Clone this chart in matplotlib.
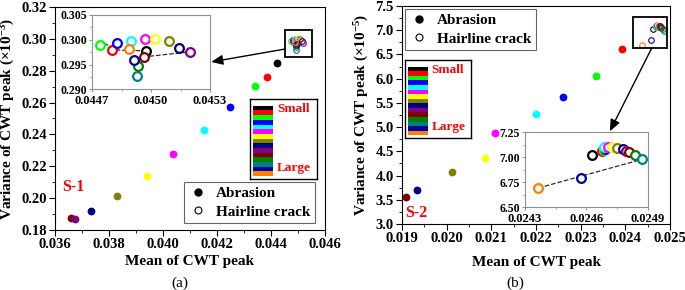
import numpy as np
import matplotlib.pyplot as plt
from matplotlib.lines import Line2D
from matplotlib.patches import Rectangle, ConnectionPatch
from matplotlib.ticker import MultipleLocator, FormatStrFormatter

plt.rcParams['font.family'] = ['Liberation Serif', 'DejaVu Serif']
plt.rcParams['font.weight'] = 'bold'
plt.rcParams['axes.labelweight'] = 'bold'
plt.rcParams['mathtext.default'] = 'regular'

# Origin-style colour order, small -> large
colors = ['#000000', '#FF0000', '#00FF00', '#0000FF', '#00FFFF', '#FF00FF',
          '#FFFF00', '#808000', '#000080', '#800080', '#800000', '#008000',
          '#008080', '#0000A0', '#FF8000']

# ---- S-1 ----
abr1_x = [0.04422, 0.04386, 0.04341, 0.04249, 0.04153, 0.04038, 0.03940,
          0.03831, 0.03733, 0.03675, 0.03659]
abr1_y = [0.2851, 0.2763, 0.2707, 0.2571, 0.2425, 0.2276, 0.2141,
          0.2013, 0.1919, 0.1867, 0.1877]
abr1_c = [0, 1, 2, 3, 4, 5, 6, 7, 8, 9, 10]

hair1_x = [0.044975, 0.044803, 0.044741, 0.044827, 0.044897, 0.044971, 0.045019,
           0.045090, 0.045144, 0.045197, 0.044966, 0.044935, 0.044927, 0.044914, 0.044887]
hair1_y = [0.29766, 0.29800, 0.29886, 0.29946, 0.29986, 0.30020, 0.30022,
           0.29980, 0.29834, 0.29754, 0.29646, 0.29480, 0.29280, 0.29594, 0.29814]
trend1_x = [0.04476, 0.04484, 0.04497, 0.04497, 0.04518]
trend1_y = [0.2993, 0.2979, 0.2978, 0.2966, 0.2975]
box1 = (0.04452, 0.04551, 0.2888, 0.3056)

# ---- S-2 ----
abr2_x = [0.02392, 0.02334, 0.02261, 0.02200, 0.02109, 0.02085, 0.02011, 0.01934, 0.01909]
abr2_y = [6.606, 6.049, 5.622, 5.278, 4.872, 4.356, 4.074, 3.702, 3.551]
abr2_c = [1, 2, 3, 4, 5, 6, 7, 8, 10]

hair2_x = [0.024628, 0.024676, 0.024683, 0.024689, 0.024686, 0.024705, 0.024725,
           0.024751, 0.024780, 0.024793, 0.024806, 0.024837, 0.024872, 0.024572, 0.024365]
hair2_y = [7.017, 7.057, 7.073, 7.083, 7.097, 7.103, 7.100,
           7.087, 7.077, 7.063, 7.050, 7.023, 6.977, 6.793, 6.690]
trend2_x = [0.024365, 0.024872]
trend2_y = [6.690, 6.977]
box2 = (0.02417, 0.02493, 6.63, 7.27)

fig = plt.figure(figsize=(6.85, 2.9), dpi=100)


def style_main(ax, xlim, ylim, xmaj, ymaj, xfmt, yfmt):
    ax.set_xlim(*xlim)
    ax.set_ylim(*ylim)
    ax.xaxis.set_major_locator(MultipleLocator(xmaj))
    ax.xaxis.set_minor_locator(MultipleLocator(xmaj / 2))
    ax.yaxis.set_major_locator(MultipleLocator(ymaj))
    ax.yaxis.set_minor_locator(MultipleLocator(ymaj / 2))
    ax.xaxis.set_major_formatter(FormatStrFormatter(xfmt))
    ax.yaxis.set_major_formatter(FormatStrFormatter(yfmt))
    ax.tick_params(which='major', direction='out', length=4, width=0.8, labelsize=10.5, pad=2)
    ax.tick_params(which='minor', direction='out', length=2, width=0.6)
    for s in ax.spines.values():
        s.set_linewidth(0.8)


def style_inset(ax, xlim, ylim, xmaj, ymaj, xfmt, yfmt, xs=9, ys=8.5):
    ax.set_xlim(*xlim)
    ax.set_ylim(*ylim)
    ax.xaxis.set_major_locator(MultipleLocator(xmaj))
    ax.xaxis.set_minor_locator(MultipleLocator(xmaj / 2))
    ax.yaxis.set_major_locator(MultipleLocator(ymaj))
    ax.yaxis.set_minor_locator(MultipleLocator(ymaj / 2))
    ax.xaxis.set_major_formatter(FormatStrFormatter(xfmt))
    ax.yaxis.set_major_formatter(FormatStrFormatter(yfmt))
    ax.tick_params(which='major', direction='out', length=2.5, width=0.6, colors='#808080',
                   labelcolor='k', pad=1)
    ax.tick_params(axis='x', labelsize=xs, pad=1.5)
    ax.tick_params(axis='y', labelsize=ys)
    ax.tick_params(which='minor', direction='out', length=1.5, width=0.5, colors='#808080')
    for s in ax.spines.values():
        s.set_linewidth(0.8)
        s.set_edgecolor('#909090')


def colour_key(rect):
    k = fig.add_axes(rect)
    k.set_xlim(0, 1)
    k.set_ylim(0, 1)
    k.set_xticks([])
    k.set_yticks([])
    for s in k.spines.values():
        s.set_linewidth(1.0)
    top, bot = 0.915, 0.035
    h = (top - bot) / len(colors)
    for i, c in enumerate(colors):
        k.barh(top - (i + 0.5) * h, 0.30, left=0.045, height=h, color=c, linewidth=0)
    k.text(0.40, 0.87, 'Small', color='red', fontsize=9.5, va='center', ha='left')
    k.text(0.40, 0.135, 'Large', color='red', fontsize=9.5, va='center', ha='left')
    return k


def legend_handles():
    return [Line2D([], [], ls='none', marker='o', ms=5, mfc='k', mec='k'),
            Line2D([], [], ls='none', marker='o', ms=5, mfc='none', mec='k', mew=0.8)]


# ================= panel (a) =================
ax1 = fig.add_axes([0.0803, 0.2069, 0.394, 0.769])
for x, y, ci in reversed(list(zip(abr1_x, abr1_y, abr1_c))):
    ax1.plot(x, y, 'o', ms=4.6, color=colors[ci], mec=colors[ci])
for i, (x, y) in enumerate(zip(hair1_x, hair1_y)):
    ax1.plot(x, y, 'o', ms=4, mfc='none', mec=colors[i], mew=0.8)
ax1.add_patch(Rectangle((box1[0], box1[2]), box1[1] - box1[0], box1[3] - box1[2],
                        fill=False, ec='k', lw=1.3, zorder=5))
style_main(ax1, (0.036, 0.046), (0.18, 0.32), 0.002, 0.02, '%.3f', '%.2f')
ax1.set_xlabel('Mean of CWT peak', fontsize=11, labelpad=3)
ax1.set_ylabel('Variance of CWT peak (×10$^{-3}$)', fontsize=11, labelpad=3)
ax1.text(0.03626, 0.207, 'S-1', color='red', fontsize=11.5, va='center')
ax1.legend(legend_handles(), ['Abrasion', 'Hairline crack'], loc='lower right',
           bbox_to_anchor=(0.963, 0.031), fontsize=11, frameon=True, fancybox=False,
           edgecolor='#404040', handletextpad=0.6, borderpad=0.3, labelspacing=0.3,
           handlelength=1.2, borderaxespad=0).get_frame().set_linewidth(0.8)
fig.text(0.263, 0.024, '(a)', fontsize=11, fontweight='normal', ha='center', va='center')

in1 = fig.add_axes([0.1343, 0.6914, 0.1723, 0.2569])
in1.plot(trend1_x, trend1_y, '--', color='#303030', lw=0.9, zorder=1)
for i, (x, y) in enumerate(zip(hair1_x, hair1_y)):
    in1.plot(x, y, 'o', ms=6.3, mfc='white', mec=colors[i], mew=1.6, zorder=2)
style_inset(in1, (0.0447, 0.0453), (0.290, 0.305), 0.0003, 0.005, '%.4f', '%.3f')

con1 = ConnectionPatch(xyA=(box1[0], 0.2936), coordsA=ax1.transData,
                       xyB=(1.01, 0.37), coordsB=in1.transAxes,
                       arrowstyle='-|>,head_length=0.7,head_width=0.3', color='k', lw=1.0,
                       mutation_scale=10)
fig.add_artist(con1)
colour_key([0.365, 0.3828, 0.0978, 0.2759])

# ================= panel (b) =================
ax2 = fig.add_axes([0.5869, 0.2276, 0.3912, 0.7517])
for x, y, ci in zip(abr2_x, abr2_y, abr2_c):
    ax2.plot(x, y, 'o', ms=4.6, color=colors[ci], mec=colors[ci])
for i, (x, y) in enumerate(zip(hair2_x, hair2_y)):
    ax2.plot(x, y, 'o', ms=4, mfc='none', mec=colors[i], mew=0.8)
ax2.add_patch(Rectangle((box2[0], box2[2]), box2[1] - box2[0], box2[3] - box2[2],
                        fill=False, ec='k', lw=1.3, zorder=5))
style_main(ax2, (0.019, 0.025), (3.0, 7.5), 0.001, 0.5, '%.3f', '%.1f')
ax2.set_xlabel('Mean of CWT peak', fontsize=11, labelpad=8)
ax2.set_ylabel('Variance of CWT peak (×10$^{-5}$)', fontsize=11, labelpad=3)
ax2.text(0.01906, 3.23, 'S-2', color='red', fontsize=11.5, va='center')
ax2.legend(legend_handles(), ['Abrasion', 'Hairline crack'], loc='upper left',
           bbox_to_anchor=(0.011, 0.986), fontsize=11, frameon=True, fancybox=False,
           edgecolor='#404040', handletextpad=0.6, borderpad=0.3, labelspacing=0.3,
           handlelength=1.2, borderaxespad=0).get_frame().set_linewidth(0.8)
fig.text(0.752, 0.024, '(b)', fontsize=11, fontweight='normal', ha='center', va='center')

in2 = fig.add_axes([0.7664, 0.2862, 0.1796, 0.2586])
in2.plot(trend2_x, trend2_y, '--', color='#303030', lw=0.9, zorder=1)
for i, (x, y) in enumerate(zip(hair2_x, hair2_y)):
    in2.plot(x, y, 'o', ms=6.3, mfc='white', mec=colors[i], mew=1.6, zorder=2)
style_inset(in2, (0.0243, 0.0249), (6.50, 7.25), 0.0003, 0.25, '%.4f', '%.2f')

con2 = ConnectionPatch(xyA=(0.02459, box2[2]), coordsA=ax2.transData,
                       xyB=(0.69, 1.01), coordsB=in2.transAxes,
                       arrowstyle='-|>,head_length=0.7,head_width=0.3', color='k', lw=1.0,
                       mutation_scale=10)
fig.add_artist(con2)
colour_key([0.5912, 0.5241, 0.0964, 0.269])

fig.savefig('out.png', dpi=100)
